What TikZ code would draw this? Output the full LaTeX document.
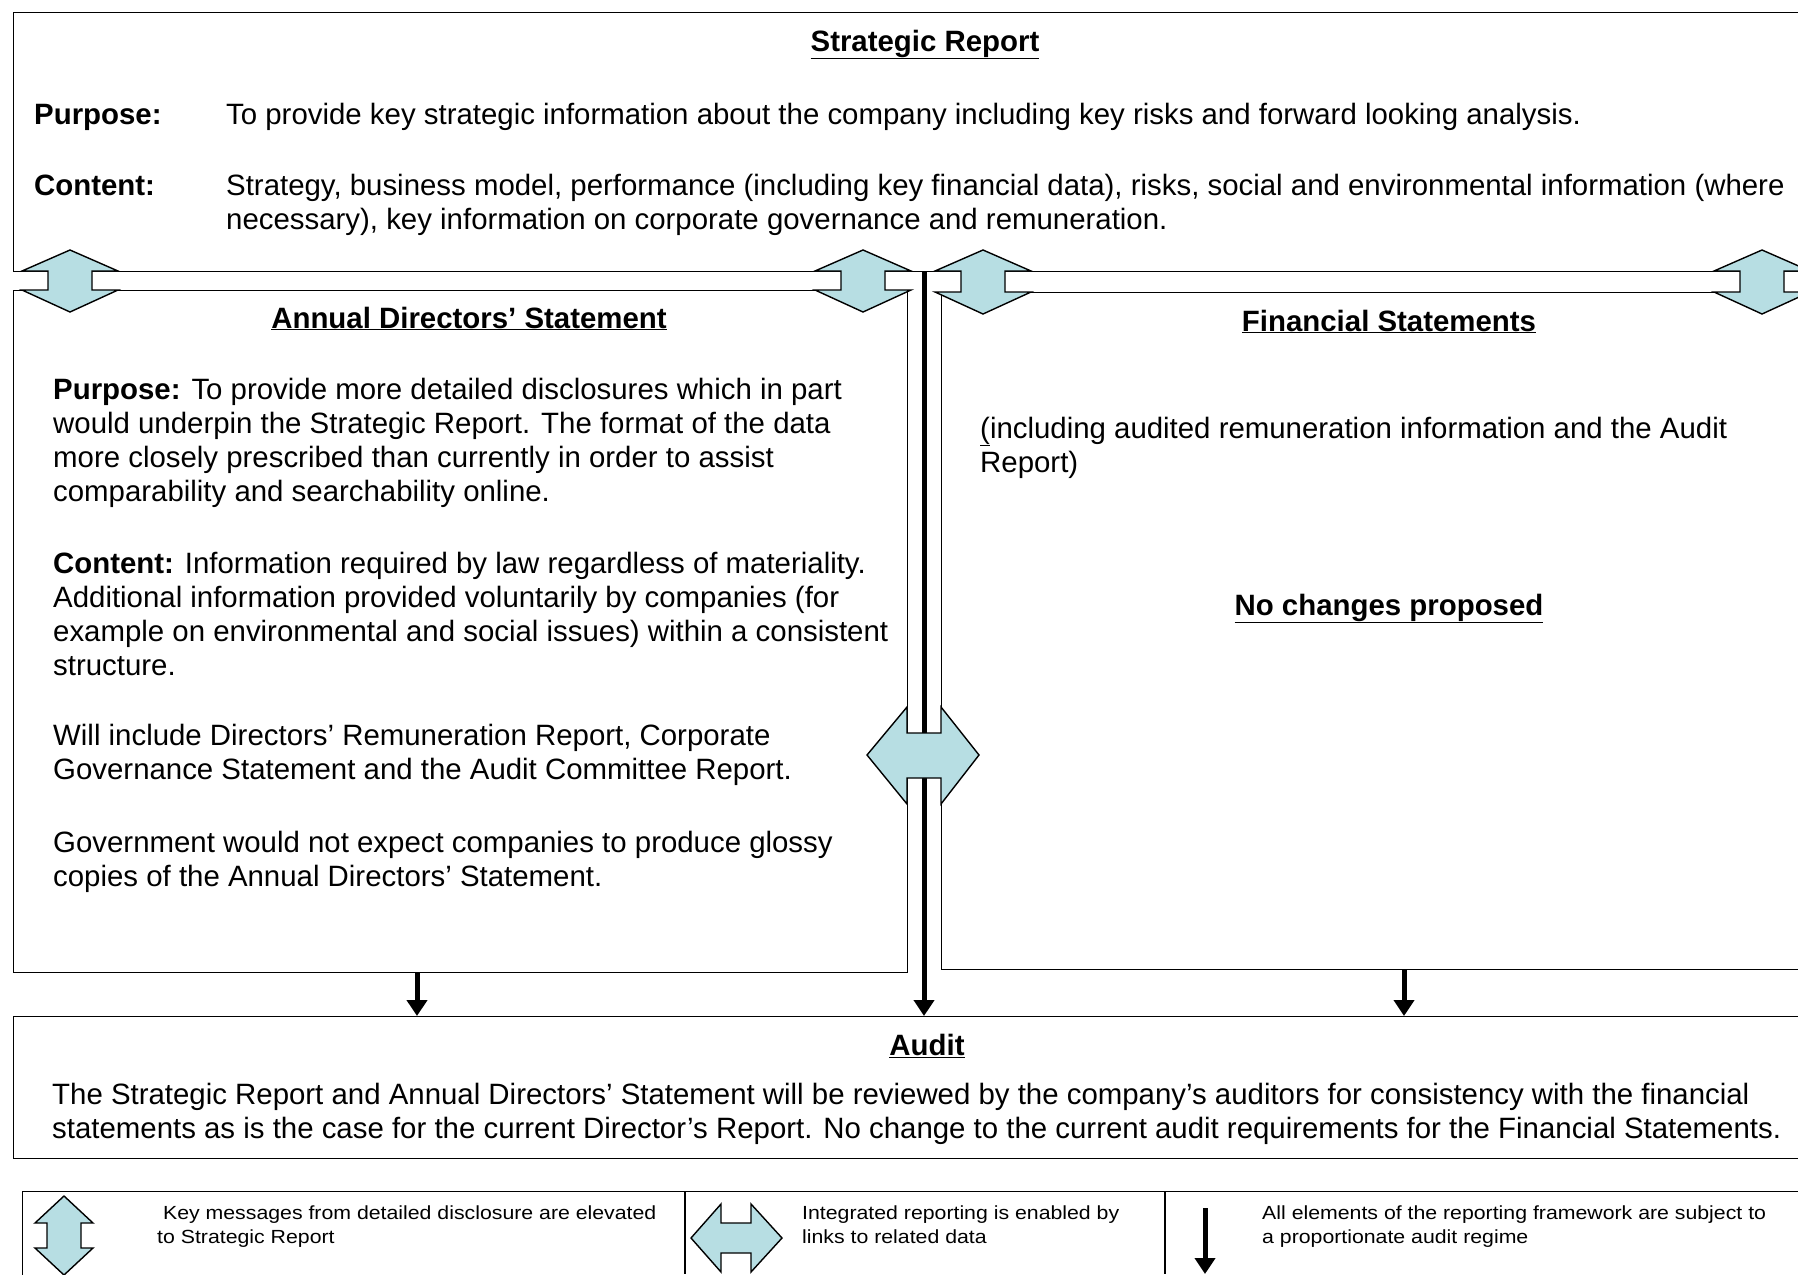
\documentclass[tikz,border=0pt]{standalone}
\usepackage{fontspec}
\setmainfont{Liberation Sans}
\newfontfamily\legendfont[FakeStretch=1.12]{Liberation Sans}
\usetikzlibrary{arrows.meta}
\definecolor{linkblue}{RGB}{183,222,227}
\tikzset{
  panel/.style={draw, line width=1.4pt, anchor=north west, inner sep=0pt},
  body/.style={font=\fontsize{29.4}{34}\selectfont, anchor=base west, align=left, inner sep=0pt},
  heading/.style={font=\fontsize{29.4}{34}\selectfont\bfseries, anchor=base, inner sep=0pt},
  key/.style={font=\legendfont\fontsize{19}{24}\selectfont, anchor=base west, align=left, inner sep=0pt},
  link/.style={fill=linkblue, draw=black, line width=1.4pt},
  auditarrow/.style={line width=5pt, -{Triangle[length=16pt,width=20pt]}},
}
\begin{document}
\begin{tikzpicture}[x=1pt, y=-1pt]
\useasboundingbox[fill=white] (0,0) rectangle (1798,1274);

% Report panels
\node[panel, minimum width=1800pt, minimum height=259pt] (strat) at (13,12) {};
\node[panel, minimum width=894pt, minimum height=682pt] (ads) at (13,290) {};
\node[panel, minimum width=870pt, minimum height=677pt] (fin) at (941,292) {};
\node[panel, minimum width=1800pt, minimum height=142pt] (audit) at (13,1016) {};
\node[panel, minimum width=1800pt, minimum height=120pt] (legend) at (22,1191) {};
\draw[line width=1.4pt] (685,1191) -- (685,1274);
\draw[line width=1.4pt] (1165,1191) -- (1165,1274);

% Everything feeds the audit
\coordinate (dropL) at (417,0);
\coordinate (dropC) at (924,0);
\coordinate (dropR) at (1404,0);
\draw[auditarrow] (ads.south -| dropL) -- (audit.north -| dropL);
\draw[auditarrow] (strat.south -| dropC) -- (audit.north -| dropC);
\draw[auditarrow] (fin.south -| dropR) -- (audit.north -| dropR);

% Links up to the Strategic Report
\foreach \cx/\ya/\yb in {70/271/290, 863/271/290, 983/271/292, 1762/271/292}
  \filldraw[link] (\cx,\ya-21) -- (\cx+48,\ya) -- (\cx+22,\ya) -- (\cx+22,\yb) -- (\cx+48,\yb)
    -- (\cx,\yb+22) -- (\cx-48,\yb) -- (\cx-22,\yb) -- (\cx-22,\ya) -- (\cx-48,\ya) -- cycle;

% Link across
\filldraw[link] (867,755) -- (907,707) -- (907,733) -- (941,733) -- (941,707) -- (979,755)
  -- (941,804) -- (941,778) -- (907,778) -- (907,804) -- cycle;

% Strategic Report (multi-line texts sit on their last baseline)
\node[heading] (stratTitle) at (925,51) {\underline{Strategic Report}};
\node[body] (stratPurposeLbl) at (34,124) {\textbf{Purpose:}};
\node[body] (stratPurpose) at (226,124) {To provide key strategic information about the company including key risks and forward looking analysis.};
\node[body] (stratContentLbl) at (34,195) {\textbf{Content:}};
\node[body] (stratContent) at (226,229) {Strategy, business model, performance (including key financial data), risks, social and environmental information (where\\
  necessary), key information on corporate governance and remuneration.};

% Annual Directors' Statement
\node[heading] (adsTitle) at (469,328) {\underline{Annual Directors’ Statement}};
\node[body] (adsPurpose) at (53,501) {\textbf{Purpose:} To provide more detailed disclosures which in part\\
  would underpin the Strategic Report. The format of the data\\
  more closely prescribed than currently in order to assist\\
  comparability and searchability online.};
\node[body] (adsContent) at (53,675) {\textbf{Content:} Information required by law regardless of materiality.\\
  Additional information provided voluntarily by companies (for\\
  example on environmental and social issues) within a consistent\\
  structure.};
\node[body] (adsInclude) at (53,779) {Will include Directors’ Remuneration Report, Corporate\\
  Governance Statement and the Audit Committee Report.};
\node[body] (adsGlossy) at (53,886) {Government would not expect companies to produce glossy\\
  copies of the Annual Directors’ Statement.};

% Financial Statements
\node[heading] (finTitle) at (1389,331) {\underline{Financial Statements}};
\node[body] (finScope) at (980,472) {\underline{(}including audited remuneration information and the Audit\\
  Report)};
\node[heading] (finNote) at (1389,615) {\underline{No changes proposed}};

% Audit
\node[heading] (auditTitle) at (927,1055) {\underline{Audit}};
\node[body] (auditText) at (52,1138) {The Strategic Report and Annual Directors’ Statement will be reviewed by the company’s auditors for consistency with the financial\\
  statements as is the case for the current Director’s Report. No change to the current audit requirements for the Financial Statements.};

% Key
\filldraw[link] (64,1196) -- (93,1223) -- (81,1223) -- (81,1248) -- (93,1248) -- (64,1275)
  -- (35,1248) -- (47,1248) -- (47,1223) -- (35,1223) -- cycle;
\filldraw[link] (691,1238) -- (721,1204) -- (721,1223) -- (751,1223) -- (751,1204) -- (782,1238)
  -- (751,1272) -- (751,1253) -- (721,1253) -- (721,1272) -- cycle;
\coordinate (keyTop) at (1205,1208);
\coordinate (keyEnd) at (1205,1274);
\draw[auditarrow] (keyTop) -- (keyEnd);
\node[key] (keyLift) at (157,1243) {\ Key messages from detailed disclosure are elevated\\
  to Strategic Report};
\node[key] (keyLink) at (802,1243) {Integrated reporting is enabled by\\
  links to related data};
\node[key] (keyAudit) at (1262,1243) {All elements of the reporting framework are subject to\\
  a proportionate audit regime};

\end{tikzpicture}
\end{document}
